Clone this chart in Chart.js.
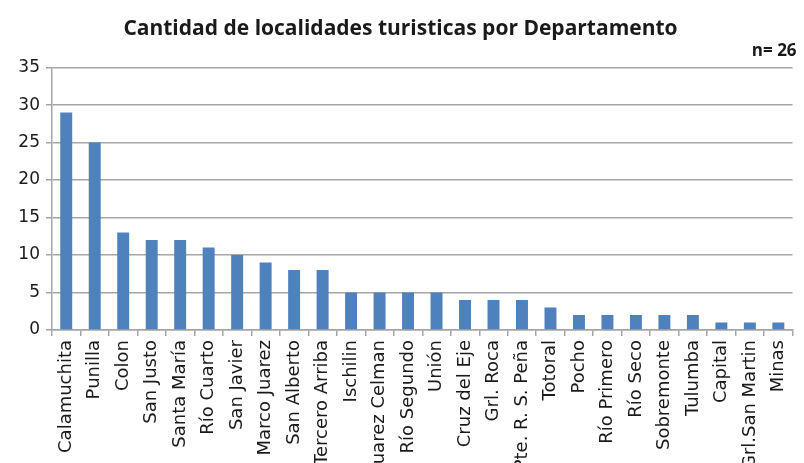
<!DOCTYPE html>
<html>
<head>
<meta charset="utf-8">
<script src="https://cdn.jsdelivr.net/npm/chart.js@4"></script>
<style>
  html, body { margin: 0; padding: 0; background: #fff; }
  #wrap { width: 804px; height: 463px; }
</style>
</head>
<body>
<div id="wrap"><canvas id="chart"></canvas></div>
<script>
const DEPARTAMENTOS = [
  "Calamuchita", "Punilla", "Colon", "San Justo", "Santa María", "Río Cuarto",
  "San Javier", "Marco Juarez", "San Alberto", "Tercero Arriba", "Ischilin",
  "Juarez Celman", "Río Segundo", "Unión", "Cruz del Eje", "Grl. Roca",
  "Pte. R. S. Peña", "Totoral", "Pocho", "Río Primero", "Río Seco",
  "Sobremonte", "Tulumba", "Capital", "Grl.San Martin", "Minas"
];
const LOCALIDADES = [29, 25, 13, 12, 12, 11, 10, 9, 8, 8, 5, 5, 5, 5, 4, 4, 4, 3, 2, 2, 2, 2, 2, 1, 1, 1];
const Y_MIN = 0;
const Y_MAX = 35;
const Y_STEP = 5;

const TITLE = "Cantidad de localidades turisticas por Departamento";
const SUBTITLE = "n= 26 ";

const GRID = "#a6a6a6";
const TEXT = "#1a1a1a";

new Chart(document.getElementById("chart"), {
  type: "bar",
  data: {
    labels: DEPARTAMENTOS,
    datasets: [{
      data: LOCALIDADES,
      backgroundColor: "#4f81bd",
      borderWidth: 0,
      categoryPercentage: 1,
      barPercentage: 0.42
    }]
  },
  options: {
    responsive: true,
    maintainAspectRatio: false,
    animation: false,
    layout: { padding: { top: 0, right: 3, left: 0, bottom: 0 } },
    plugins: {
      legend: { display: false },
      tooltip: { enabled: false },
      title: {
        display: true,
        text: TITLE,
        color: TEXT,
        font: { family: "'Open Sans', sans-serif", size: 21, weight: "bold" },
        padding: { top: 16, bottom: 0 }
      },
      subtitle: {
        display: true,
        text: SUBTITLE,
        align: "end",
        color: TEXT,
        font: { family: "'Open Sans', sans-serif", size: 17, weight: "bold" },
        padding: { top: 0, bottom: 6 }
      }
    },
    scales: {
      x: {
        afterFit: (s) => { s.height = 133; },
        grid: {
          offset: true,
          drawOnChartArea: false,
          drawTicks: true,
          tickLength: 6,
          color: GRID,
          lineWidth: 1.5
        },
        border: { color: GRID, width: 1.5 },
        ticks: {
          autoSkip: false,
          maxRotation: 90,
          minRotation: 90,
          padding: 4,
          color: TEXT,
          font: { family: "'DejaVu Sans', sans-serif", size: 18 }
        }
      },
      y: {
        min: Y_MIN,
        max: Y_MAX,
        afterFit: (s) => { s.width = 52; },
        grid: {
          color: GRID,
          lineWidth: 1.5,
          tickLength: 6
        },
        border: { color: GRID, width: 1.5 },
        ticks: {
          stepSize: Y_STEP,
          padding: 6,
          color: TEXT,
          font: { family: "'DejaVu Sans', sans-serif", size: 17 }
        }
      }
    }
  }
});
</script>
</body>
</html>
